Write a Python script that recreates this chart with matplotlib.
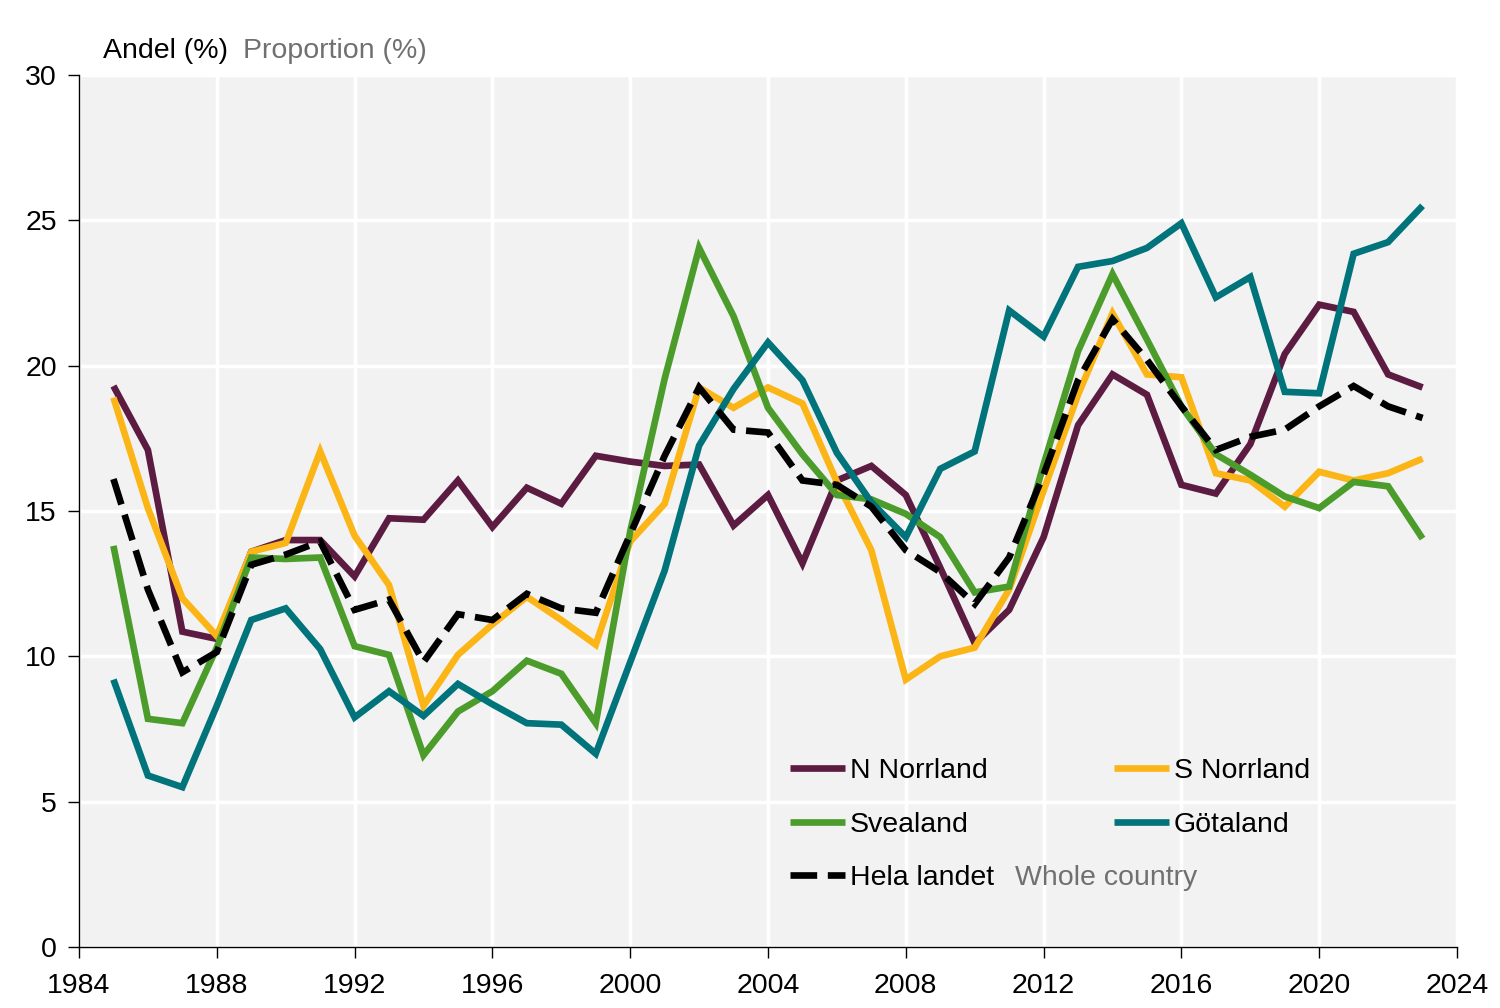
import matplotlib
matplotlib.use("Agg")
import matplotlib.pyplot as plt

plt.rcParams['font.family'] = ['Liberation Sans', 'DejaVu Sans']

years = list(range(1985, 2024))

n_norrland = [19.3, 17.1, 10.85, 10.6, 13.6, 14.0, 14.0, 12.75, 14.75, 14.7, 16.05, 14.45, 15.8, 15.25, 16.9,
              16.7, 16.55, 16.6, 14.5, 15.55, 13.2, 16.05, 16.55, 15.55, 13.05, 10.45, 11.6, 14.1, 17.95, 19.7,
              19.0, 15.9, 15.6, 17.3, 20.4, 22.1, 21.85, 19.7, 19.25]
s_norrland = [18.9, 15.1, 12.0, 10.7, 13.6, 13.9, 17.05, 14.15, 12.45, 8.3, 10.05, 11.1, 12.05, 11.25, 10.4,
              13.95, 15.25, 19.25, 18.55, 19.25, 18.7, 16.0, 13.65, 9.2, 10.0, 10.3, 12.3, 15.7, 19.0, 21.8,
              19.7, 19.6, 16.3, 16.05, 15.15, 16.35, 16.05, 16.3, 16.8]
svealand = [13.8, 7.85, 7.7, 10.3, 13.4, 13.35, 13.4, 10.35, 10.05, 6.6, 8.1, 8.8, 9.85, 9.4, 7.7,
            14.3, 19.55, 24.05, 21.7, 18.55, 16.95, 15.55, 15.4, 14.9, 14.1, 12.2, 12.4, 16.6, 20.5, 23.15,
            20.9, 18.6, 16.95, 16.25, 15.5, 15.1, 16.0, 15.85, 14.05]
gotaland = [9.2, 5.9, 5.5, 8.3, 11.25, 11.65, 10.25, 7.9, 8.8, 7.95, 9.05, 8.35, 7.7, 7.65, 6.65,
            9.8, 12.95, 17.25, 19.2, 20.8, 19.5, 17.0, 15.3, 14.1, 16.45, 17.05, 21.9, 21.0, 23.4, 23.6,
            24.05, 24.9, 22.35, 23.05, 19.1, 19.05, 23.85, 24.25, 25.5]
hela_landet = [16.1, 12.3, 9.45, 10.15, 13.15, 13.5, 13.95, 11.6, 11.95, 9.8, 11.45, 11.25, 12.15, 11.65, 11.5,
               14.2, 16.9, 19.25, 17.8, 17.7, 16.05, 15.9, 15.15, 13.65, 12.9, 11.8, 13.4, 16.25, 19.5, 21.6,
               20.2, 18.6, 17.1, 17.55, 17.8, 18.6, 19.3, 18.6, 18.2]

labels = ['N Norrland', 'S Norrland', 'Svealand', 'Götaland', 'Hela landet']
colors = ['#5c1b41', '#fbb516', '#4c9c2c', '#00737b', '#000000']
xticks = list(range(1984, 2025, 4))
yticks = [0, 5, 10, 15, 20, 25, 30]

FS = 20.5

fig = plt.figure(figsize=(15, 10.08), dpi=100)
ax = fig.add_axes([79/1500, 61/1008, 1378/1500, 872/1008])
ax.set_facecolor('#f2f2f2')
ax.set_xlim(1984, 2024)
ax.set_ylim(0, 30)
ax.set_xticks(xticks)
ax.set_yticks(yticks)
ax.grid(True, color='white', linewidth=2.5)
ax.set_axisbelow(True)
for s in ['top', 'right']:
    ax.spines[s].set_visible(False)
for s in ['left', 'bottom']:
    ax.spines[s].set_color('black')
    ax.spines[s].set_linewidth(1.0)
ax.tick_params(axis='y', direction='out', length=8, width=1.0, labelsize=FS, colors='black', pad=8)
ax.tick_params(axis='x', direction='out', length=8, width=1.0, labelsize=FS, colors='black', pad=11)

lw = 4.8
series = [n_norrland, s_norrland, svealand, gotaland]
lines = []
for vals, lab, col in zip(series, labels[:4], colors[:4]):
    l, = ax.plot(years, vals, color=col, lw=lw, label=lab, solid_joinstyle='miter', solid_capstyle='butt')
    lines.append(l)
hl, = ax.plot(years, hela_landet, color='black', lw=lw, dashes=(4.0, 1.6), label='Hela landet',
              dash_capstyle='butt', dash_joinstyle='miter')
lines.append(hl)

handles = [lines[0], lines[2], lines[4], lines[1], lines[3]]
hlabels = [labels[0], labels[2], labels[4], labels[1], labels[3]]
leg = ax.legend(handles, hlabels, ncol=2, frameon=False, fontsize=FS,
                loc='upper left', bbox_to_anchor=(790/1500, (1008-758)/1008),
                bbox_transform=fig.transFigure, borderaxespad=0, borderpad=0,
                handlelength=1.93, handletextpad=0.18, labelspacing=0.97, columnspacing=4.2)

fig.text(1015/1500, (1008-878)/1008, 'Whole country', color='#707070', fontsize=FS, va='center', ha='left')

fig.text(103/1500, (1008-51)/1008, 'Andel (%)', color='black', fontsize=FS, va='center', ha='left')
fig.text(243/1500, (1008-51)/1008, 'Proportion (%)', color='#707070', fontsize=FS, va='center', ha='left')

fig.savefig('out.png', dpi=100)
